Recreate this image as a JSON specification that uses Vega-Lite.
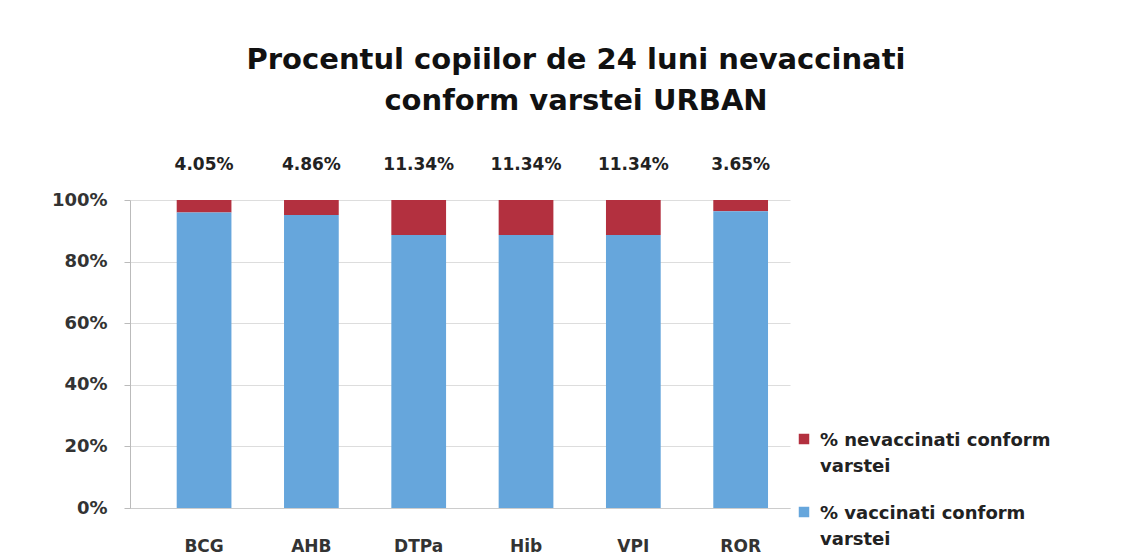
{
  "$schema": "https://vega.github.io/schema/vega-lite/v6.json",
  "autosize": {"type": "none"},
  "padding": {"left": 130, "top": 200, "right": 358, "bottom": 49},
  "width": 660,
  "height": 308,
  "background": "white",
  "title": {
    "text": ["Procentul copiilor de 24 luni nevaccinati", "conform varstei URBAN"],
    "font": "DejaVu Sans",
    "fontSize": 29,
    "fontWeight": "bold",
    "color": "#111111",
    "anchor": "middle",
    "dx": 116,
    "offset": 40,
    "lineHeight": 41,
    "baseline": "top",
    "orient": "top"
  },
  "data": {
    "values": [
      {"vaccin": "BCG", "categorie": "% nevaccinati conform varstei", "valoare": 4.05, "ordine": 2, "eticheta": "4.05%"},
      {"vaccin": "BCG", "categorie": "% vaccinati conform varstei", "valoare": 95.95, "ordine": 1, "eticheta": ""},
      {"vaccin": "AHB", "categorie": "% nevaccinati conform varstei", "valoare": 4.86, "ordine": 2, "eticheta": "4.86%"},
      {"vaccin": "AHB", "categorie": "% vaccinati conform varstei", "valoare": 95.14, "ordine": 1, "eticheta": ""},
      {"vaccin": "DTPa", "categorie": "% nevaccinati conform varstei", "valoare": 11.34, "ordine": 2, "eticheta": "11.34%"},
      {"vaccin": "DTPa", "categorie": "% vaccinati conform varstei", "valoare": 88.66, "ordine": 1, "eticheta": ""},
      {"vaccin": "Hib", "categorie": "% nevaccinati conform varstei", "valoare": 11.34, "ordine": 2, "eticheta": "11.34%"},
      {"vaccin": "Hib", "categorie": "% vaccinati conform varstei", "valoare": 88.66, "ordine": 1, "eticheta": ""},
      {"vaccin": "VPI", "categorie": "% nevaccinati conform varstei", "valoare": 11.34, "ordine": 2, "eticheta": "11.34%"},
      {"vaccin": "VPI", "categorie": "% vaccinati conform varstei", "valoare": 88.66, "ordine": 1, "eticheta": ""},
      {"vaccin": "ROR", "categorie": "% nevaccinati conform varstei", "valoare": 3.65, "ordine": 2, "eticheta": "3.65%"},
      {"vaccin": "ROR", "categorie": "% vaccinati conform varstei", "valoare": 96.35, "ordine": 1, "eticheta": ""}
    ]
  },
  "encoding": {
    "x": {
      "field": "vaccin",
      "type": "nominal",
      "sort": ["BCG", "AHB", "DTPa", "Hib", "VPI", "ROR"],
      "scale": {"paddingInner": 0.49, "paddingOuter": 0.32, "align": 0.68},
      "axis": {
        "title": null,
        "labelAngle": 0,
        "labelFont": "DejaVu Sans",
        "labelFontSize": 17,
        "labelFontWeight": "bold",
        "labelColor": "#333333",
        "labelPadding": 30,
        "ticks": false,
        "domainColor": "#cccccc"
      }
    }
  },
  "layer": [
    {
      "mark": {"type": "bar"},
      "encoding": {
        "y": {
          "field": "valoare",
          "type": "quantitative",
          "stack": "zero",
          "scale": {"domain": [0, 100]},
          "axis": {
            "title": null,
            "values": [0, 20, 40, 60, 80, 100],
            "labelExpr": "datum.value + '%'",
            "labelFont": "DejaVu Sans",
            "labelFontSize": 18,
            "labelFontWeight": "bold",
            "labelColor": "#333333",
            "labelPadding": 17,
            "domainColor": "#bbbbbb",
            "tickColor": "#bbbbbb",
            "tickSize": 6,
            "gridColor": "#dddddd"
          }
        },
        "order": {"field": "ordine"},
        "color": {
          "field": "categorie",
          "type": "nominal",
          "sort": ["% nevaccinati conform varstei", "% vaccinati conform varstei"],
          "scale": {
            "domain": ["% nevaccinati conform varstei", "% vaccinati conform varstei"],
            "range": ["#b3303f", "#66a6dc"]
          },
          "legend": {
            "title": null,
            "orient": "none",
            "legendX": 665,
            "legendY": 230,
            "symbolType": "square",
            "symbolSize": 110,
            "symbolStrokeWidth": 0,
            "labelFont": "DejaVu Sans",
            "labelFontSize": 18,
            "labelFontWeight": "bold",
            "labelColor": "#222222",
            "labelLimit": 400,
            "labelOffset": 7,
            "rowPadding": 27,
            "labelExpr": "datum.label == '% nevaccinati conform varstei' ? ['% nevaccinati conform', 'varstei'] : ['% vaccinati conform', 'varstei']",
            "labelBaseline": "top",
            "encode": {
              "symbols": {
                "enter": {
                  "fill": {"signal": "indexof(datum.label, 'nev') >= 0 ? '#a24c63' : '#7fbcb8'"}
                },
                "update": {
                  "fill": {"signal": "indexof(datum.label, 'nev') >= 0 ? '#a24c63' : '#7fbcb8'"},
                  "opacity": {"value": 1}
                }
              },
              "labels": {
                "update": {"lineHeight": {"value": 26}, "dy": {"value": -7}}
              }
            }
          }
        }
      }
    },
    {
      "transform": [{"filter": "datum.eticheta != ''"}],
      "mark": {
        "type": "text",
        "font": "DejaVu Sans",
        "fontSize": 17,
        "fontWeight": "bold",
        "color": "#222222",
        "baseline": "alphabetic",
        "dy": -30
      },
      "encoding": {
        "y": {"datum": 100, "type": "quantitative"},
        "text": {"field": "eticheta"}
      }
    }
  ],
  "config": {
    "view": {"stroke": null}
  }
}
